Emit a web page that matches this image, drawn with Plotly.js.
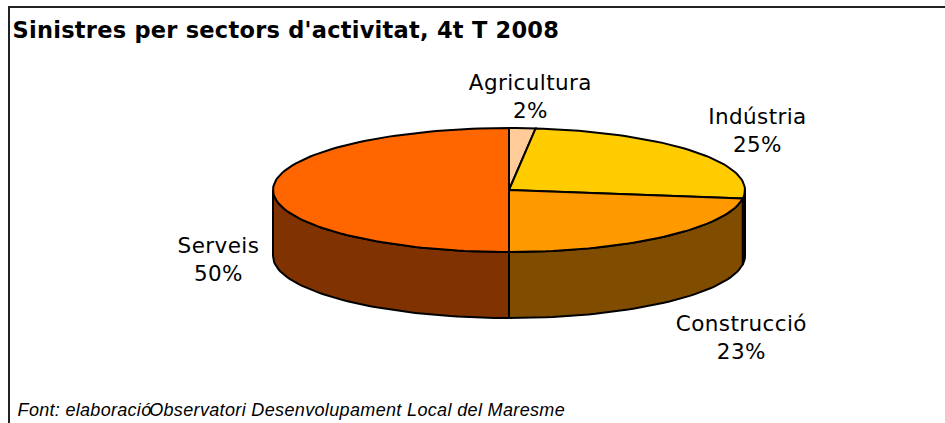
<!DOCTYPE html>
<html>
<head>
<meta charset="utf-8">
<script src="https://cdn.plot.ly/plotly-3.0.1.min.js"></script>
<style>
html,body{margin:0;padding:0;background:#fff}#c{width:945px;height:423px}
.annotation text{letter-spacing:0.4px}
.annotation[data-index="4"] text{letter-spacing:0.25px}
.annotation[data-index="5"] text{letter-spacing:0.3px}
.annotation[data-index="6"] text{letter-spacing:0.35px}
</style>
</head>
<body>
<div id="c"></div>
<script>
const categories = ["Agricultura", "Indústria", "Construcció", "Serveis"];
const shares = [1.8, 25.4, 22.8, 50];
const topColors = ["#FFCC99", "#FFCC00", "#FF9900", "#FF6600"];
const sideColors = ["#806633", "#806600", "#804D00", "#803300"];
const labelX = [530, 757, 741, 218];
const labelY = [96, 130, 337, 259];

const cx = 509, cy = 190, rx = 236, ry = 62, depth = 66;
const total = shares.reduce((a, b) => a + b, 0);
const px = t => cx + rx * Math.sin(t);
const py = (t, d) => cy - ry * Math.cos(t) + (d || 0);
const rad = f => f * 2 * Math.PI;
const line = {color: "#000", width: 2};
const traces = [];
let acc = 0;
const spans = shares.map(v => { const s = [acc / total, (acc + v) / total]; acc += v; return s; });

function arc(a, b, d) {
  const n = Math.max(2, Math.ceil((b - a) * 200));
  const xs = [], ys = [];
  for (let i = 0; i <= n; i++) { const t = rad(a + (b - a) * i / n); xs.push(px(t)); ys.push(py(t, d)); }
  return [xs, ys];
}
spans.forEach((s, i) => {
  const a = Math.max(s[0], 0.25), b = Math.min(s[1], 0.75);
  if (b <= a) return;
  const [x1, y1] = arc(a, b, 0);
  const [x2, y2] = arc(a, b, depth);
  traces.push({type: "scatter", mode: "lines", fill: "toself", fillcolor: sideColors[i], line,
    x: x1.concat(x2.reverse(), [x1[0]]), y: y1.concat(y2.reverse(), [y1[0]]), hoverinfo: "skip", showlegend: false});
});
spans.forEach((s, i) => {
  const [x1, y1] = arc(s[0], s[1], 0);
  traces.push({type: "scatter", mode: "lines", fill: "toself", fillcolor: topColors[i], line,
    x: [cx].concat(x1, [cx]), y: [cy].concat(y1, [cy]), name: categories[i], hoverinfo: "skip", showlegend: false});
});
const ann = categories.map((c, i) => ({
  x: labelX[i], y: labelY[i], xref: "x", yref: "y", showarrow: false, align: "center",
  text: c + "<br>" + Math.round(shares[i]) + "%", font: {family: "DejaVu Sans", size: 21.5, color: "#000"}
}));
ann.push({x: 286, y: 30, xref: "x", yref: "y", showarrow: false,
  text: "<b>Sinistres per sectors d'activitat, 4t T 2008</b>", font: {family: "DejaVu Sans", size: 22.5, color: "#000"}});
ann.push({x: 84, y: 410, xref: "x", yref: "y", showarrow: false,
  text: "<i>Font: elaboració</i>", font: {family: "Liberation Sans", size: 18, color: "#000"}});
ann.push({x: 356.5, y: 410, xref: "x", yref: "y", showarrow: false,
  text: "<i>Observatori Desenvolupament Local del Maresme</i>", font: {family: "Liberation Sans", size: 18, color: "#000"}});
const layout = {
  width: 945, height: 423, margin: {l: 0, r: 0, t: 0, b: 0},
  paper_bgcolor: "#fff", plot_bgcolor: "#fff", showlegend: false,
  xaxis: {range: [0, 945], visible: false, fixedrange: true},
  yaxis: {range: [423, 0], visible: false, fixedrange: true},
  annotations: ann,
  shapes: [
    {type: "line", xref: "x", yref: "y", x0: 9, x1: 945, y0: 7, y1: 7, line: {color: "#222", width: 2}},
    {type: "line", xref: "x", yref: "y", x0: 9, x1: 9, y0: 6, y1: 423, line: {color: "#222", width: 2}}
  ]
};
Plotly.newPlot("c", traces, layout, {displayModeBar: false, staticPlot: true});
</script>
</body>
</html>
